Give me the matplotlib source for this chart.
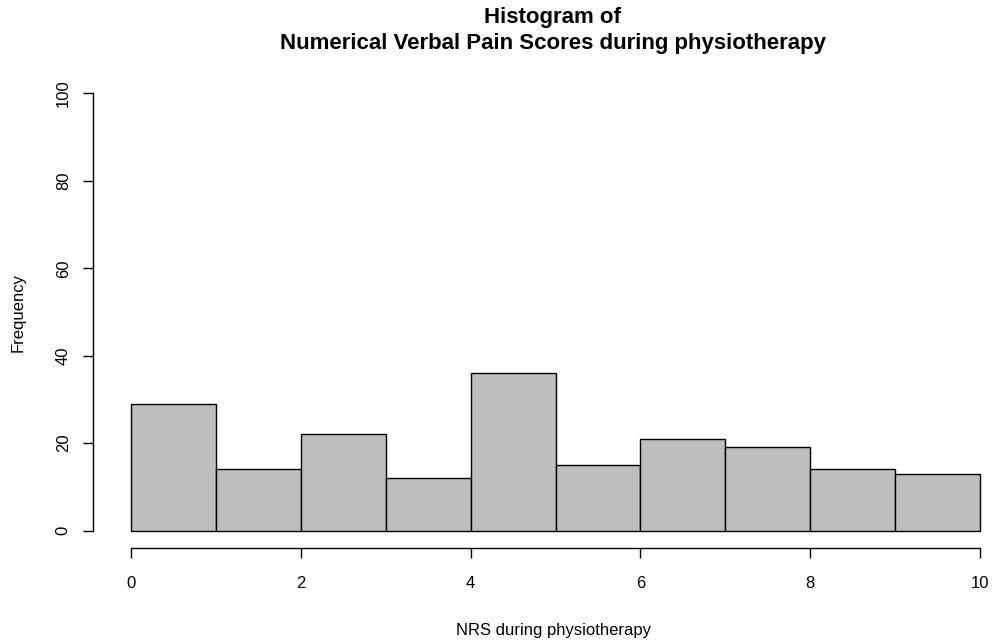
import numpy as np
import matplotlib.pyplot as plt

# NRS bins (0-1, 1-2, ..., 9-10) and counts
bin_edges = np.arange(0, 11)
counts = [29, 14, 22, 12, 36, 15, 21, 19, 14, 13]
x_ticks = [0, 2, 4, 6, 8, 10]
y_ticks = [0, 20, 40, 60, 80, 100]

plt.rcParams['font.family'] = ['Liberation Sans', 'DejaVu Sans']

fig = plt.figure(figsize=(9.94, 6.43), dpi=100)
ax = fig.add_axes([93 / 994, 1 - 548 / 643, (994 - 93) / 994, (548 - 76) / 643])

ax.bar(bin_edges[:-1], counts, width=np.diff(bin_edges), align='edge',
       color='#BEBEBE', edgecolor='black', linewidth=1.0)

ax.set_xlim(-0.45, 10.165)
ax.set_ylim(-4, 104)

for s in ['top', 'right']:
    ax.spines[s].set_visible(False)
ax.spines['left'].set_bounds(0, 100)
ax.spines['bottom'].set_bounds(0, 10)
ax.spines['left'].set_linewidth(1.0)
ax.spines['bottom'].set_linewidth(1.0)

ax.set_xticks(x_ticks)
ax.set_yticks(y_ticks)
ax.set_yticklabels([str(v) for v in y_ticks], rotation=90, va='center')
ax.tick_params(axis='x', length=7, width=1.0, pad=13, labelsize=12)
ax.tick_params(axis='y', length=7, width=1.0, pad=9, labelsize=12)

fig.text(553 / 994, 1 - 18 / 643, 'Histogram of', ha='center', va='center',
         fontsize=16, fontweight='bold')
fig.text(553 / 994, 1 - 44 / 643, 'Numerical Verbal Pain Scores during physiotherapy',
         ha='center', va='center', fontsize=16, fontweight='bold')
fig.text(553 / 994, 1 - 631 / 643, 'NRS during physiotherapy', ha='center',
         va='center', fontsize=12)
fig.text(18 / 994, 1 - 312 / 643, 'Frequency', ha='center', va='center',
         fontsize=12, rotation=90)

fig.savefig('out.png', dpi=100)
